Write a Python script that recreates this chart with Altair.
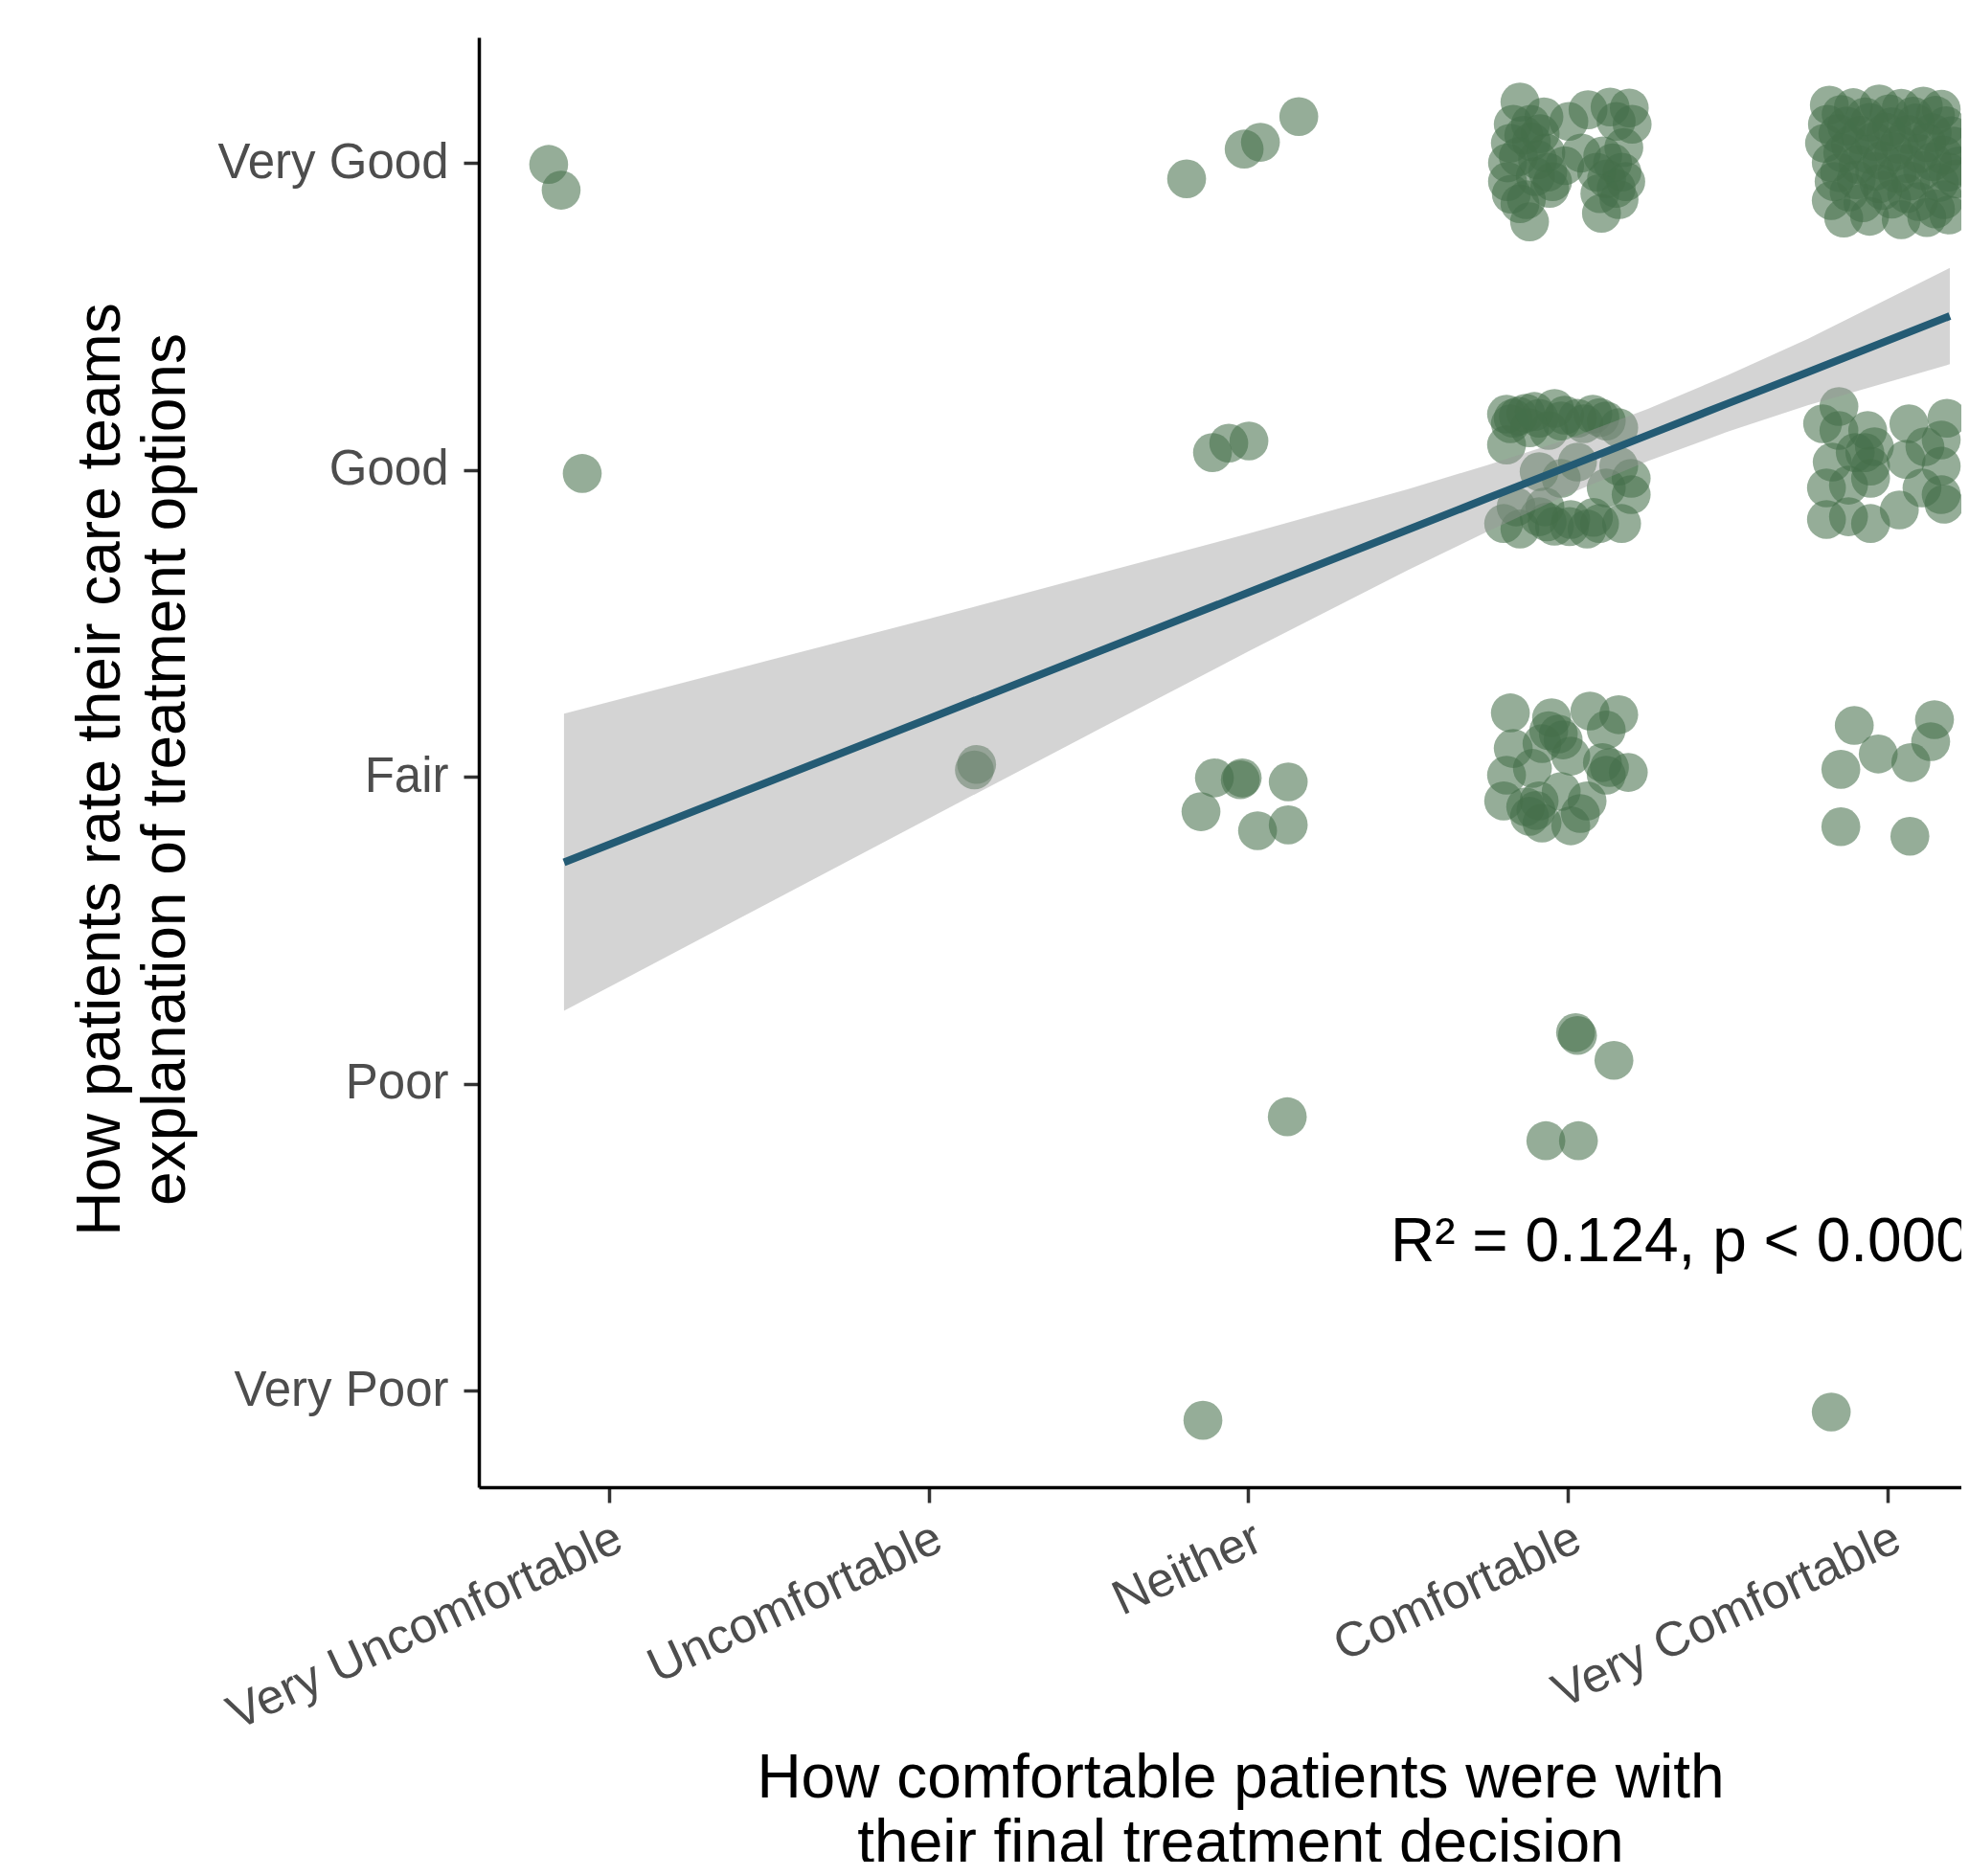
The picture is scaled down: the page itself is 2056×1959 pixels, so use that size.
import json
import altair as alt
import pandas as pd

x_labels = ["Very Uncomfortable", "Uncomfortable", "Neither", "Comfortable", "Very Comfortable"]
y_labels = ["Very Poor", "Poor", "Fair", "Good", "Very Good"]

# jittered survey responses (x: comfort, y: rating)
vu_x = [0.811, 0.850, 0.916]
vu_y = [4.995, 4.911, 3.988]

un_x = [2.150, 2.143]
un_y = [3.040, 3.022]

ne_x = [2.807, 2.987, 3.038, 3.158, 2.888, 2.939, 3.002,
        2.894, 2.981, 2.975, 3.125, 2.852, 3.029, 3.125, 3.122, 2.858]
ne_y = [4.948, 5.045, 5.067, 5.151, 4.056, 4.087, 4.094,
        2.996, 2.996, 2.990, 2.983, 2.886, 2.824, 2.843, 1.892, 0.903]

co_vg_x = [3.850, 3.829, 3.883, 3.820, 3.886, 3.931, 3.811, 3.937, 3.811, 3.823,
           3.850, 3.880, 3.952, 4.003, 3.990, 4.063, 4.132, 4.192, 4.201, 4.151,
           4.109, 4.169, 4.181, 4.121, 4.090, 4.105, 3.943, 4.151, 4.042, 3.913,
           3.862, 3.905, 3.845, 3.898, 3.870, 4.140, 4.175, 4.100, 4.160, 3.925]
co_vg_y = [5.198, 5.126, 5.126, 5.064, 5.069, 5.032, 5.000, 4.970, 4.939, 4.898,
           4.867, 4.808, 4.939, 5.135, 4.991, 5.173, 5.182, 5.179, 5.126, 5.135,
           5.023, 4.970, 4.939, 4.948, 4.970, 4.836, 4.917, 4.917, 5.032, 5.095,
           5.090, 5.010, 5.020, 4.955, 4.880, 5.000, 5.050, 4.900, 4.880, 5.150]

co_g_x = [3.808, 3.829, 3.868, 3.910, 3.958, 3.979, 4.030, 4.078, 4.120, 4.159,
          3.820, 3.880, 3.940, 3.808, 3.910, 3.979, 4.159, 4.198, 4.120, 4.198,
          4.030, 3.799, 3.850, 3.910, 3.958, 4.009, 4.060, 4.099, 4.168, 3.928, 3.838,
          3.845, 3.895, 3.990, 4.050, 4.100, 3.935, 4.005, 4.080]
co_g_y = [4.181, 4.168, 4.184, 4.168, 4.200, 4.159, 4.168, 4.181, 4.159, 4.137,
          4.150, 4.137, 4.128, 4.081, 3.994, 3.972, 4.012, 3.972, 3.941, 3.919,
          4.025, 3.825, 3.807, 3.847, 3.816, 3.838, 3.807, 3.825, 3.825, 3.879, 3.879,
          4.175, 4.190, 4.178, 4.150, 4.170, 3.830, 3.815, 3.845]

co_f_x = [3.820, 3.949, 4.069, 4.159, 4.120, 3.970, 3.829, 3.919, 4.009, 4.108,
          4.189, 4.120, 3.808, 3.889, 3.799, 3.868, 3.910, 3.979, 4.060, 3.919,
          4.009, 4.039, 3.880, 3.940, 3.985, 3.900, 4.130]
co_f_y = [3.208, 3.192, 3.214, 3.202, 3.152, 3.139, 3.092, 3.108, 3.067, 3.046,
          3.014, 3.005, 3.005, 3.027, 2.921, 2.902, 2.921, 2.952, 2.921, 2.849,
          2.840, 2.880, 2.871, 3.150, 3.120, 2.890, 3.030]

co_p_x = [4.024, 4.030, 4.144, 3.931, 4.033]
co_p_y = [2.166, 2.157, 2.076, 1.814, 1.814]

vc_vg_x = [4.818, 4.893, 4.974, 5.043, 5.112, 5.168,
           4.812, 4.872, 4.944, 5.013, 5.088, 5.183,
           4.803, 4.884, 4.959, 5.037, 5.123, 5.207,
           4.824, 4.908, 4.983, 5.058, 5.141, 5.222,
           4.833, 4.902, 4.974, 5.073, 5.162, 5.213,
           4.824, 4.923, 5.013, 5.097, 5.177,
           4.863, 4.944, 5.043, 5.123, 5.192,
           4.855, 4.930, 5.005, 5.080, 5.150,
           4.845, 4.915, 4.995, 5.065, 5.140, 5.200,
           4.860, 4.940, 5.020, 5.100, 5.175,
           4.850, 4.960, 5.030, 5.110, 5.190,
           4.880, 4.985, 5.060, 5.150]
vc_vg_y = [5.188, 5.180, 5.192, 5.178, 5.185, 5.175,
           5.126, 5.120, 5.132, 5.118, 5.130, 5.121,
           5.064, 5.058, 5.070, 5.060, 5.066, 5.055,
           5.001, 4.995, 5.008, 4.998, 5.004, 4.990,
           4.939, 4.945, 4.932, 4.941, 4.936, 4.948,
           4.877, 4.870, 4.882, 4.874, 4.880,
           4.820, 4.826, 4.815, 4.822, 4.830,
           5.158, 5.150, 5.160, 5.152, 5.155,
           5.095, 5.090, 5.100, 5.092, 5.098, 5.088,
           5.032, 5.028, 5.036, 5.030, 5.025,
           4.968, 4.972, 4.965, 4.975, 4.970,
           4.905, 4.910, 4.900, 4.850]

vc_g_x = [4.848, 4.797, 4.848, 4.938, 4.959, 4.899, 5.067, 5.186, 5.168, 5.117,
          4.827, 4.947, 5.058, 5.168, 4.809, 4.878, 4.947, 5.108, 5.168, 4.809,
          4.878, 4.947, 5.037, 5.177, 4.929]
vc_g_y = [4.206, 4.150, 4.128, 4.128, 4.075, 4.056, 4.150, 4.168, 4.097, 4.075,
          4.025, 4.012, 4.034, 4.012, 3.941, 3.950, 3.972, 3.941, 3.919, 3.838,
          3.847, 3.825, 3.869, 3.888, 4.056]

vc_f_x = [4.896, 5.147, 5.135, 4.971, 5.073, 4.854, 4.854, 5.070]
vc_f_y = [3.167, 3.186, 3.114, 3.074, 3.046, 3.024, 2.837, 2.806]

vc_vp_x = [4.824]
vc_vp_y = [0.930]

# linear fit with 95% confidence band
fit_x = [0.859, 1.5, 2.0, 2.5, 3.0, 3.5, 3.75, 4.0, 4.25, 4.5, 4.75, 5.195]
fit_y = [2.721, 2.984, 3.189, 3.395, 3.600, 3.805, 3.908, 4.010, 4.113, 4.216, 4.318, 4.501]
fit_lo = [2.237, 2.589, 2.864, 3.137, 3.408, 3.673, 3.800, 3.920, 4.028, 4.124, 4.210, 4.344]
fit_hi = [3.205, 3.379, 3.514, 3.653, 3.792, 3.937, 4.016, 4.100, 4.198, 4.308, 4.426, 4.658]

note_text = ["R\u00b2 = 0.124, p < 0.0001"]
note_x = [3.445]
note_y = [1.42]

pts = pd.DataFrame({
    "x": vu_x + un_x + ne_x + co_vg_x + co_g_x + co_f_x + co_p_x + vc_vg_x + vc_g_x + vc_f_x + vc_vp_x,
    "y": vu_y + un_y + ne_y + co_vg_y + co_g_y + co_f_y + co_p_y + vc_vg_y + vc_g_y + vc_f_y + vc_vp_y,
})
fit = pd.DataFrame({"x": fit_x, "y": fit_y, "lo": fit_lo, "hi": fit_hi})
note = pd.DataFrame({"x": note_x, "y": note_y, "t": note_text})

FONT = "Liberation Sans"
xs = alt.Scale(domain=[0.5925, 5.231], nice=False, zero=False)
ys = alt.Scale(domain=[0.685, 5.409], nice=False, zero=False)

x_axis = alt.Axis(
    values=[1, 2, 3, 4, 5],
    labelExpr=json.dumps(x_labels) + "[round(datum.value) - 1]",
    labelAngle=335, labelAlign="right", labelBaseline="top",
    labelFont=FONT, labelFontSize=51, labelColor="#4d4d4d", labelPadding=12,
    labelOverlap=False, labelLimit=0, labelOffset=0,
    title=["How comfortable patients were with", "their final treatment decision"],
    titleFont=FONT, titleFontSize=64, titleFontWeight="normal", titleColor="black",
    titleLineHeight=68, titleX=795, titleY=272, titleBaseline="top", titleAlign="center",
    grid=False, domainColor="black", domainWidth=3.5, tickColor="#333333",
    tickWidth=3.5, tickSize=16,
)
y_axis = alt.Axis(
    values=[1, 2, 3, 4, 5],
    labelExpr=json.dumps(y_labels) + "[round(datum.value) - 1]",
    labelFont=FONT, labelFontSize=51, labelColor="#4d4d4d", labelPadding=16,
    labelOverlap=False, labelLimit=0,
    title=["How patients rate their care teams", "explanation of treatment options"],
    titleFont=FONT, titleFontSize=64, titleFontWeight="normal", titleColor="black",
    titleLineHeight=68, titleAngle=270, titleX=-427, titleY=764,
    titleBaseline="top", titleAlign="center",
    grid=False, domainColor="black", domainWidth=3.5, tickColor="#333333",
    tickWidth=3.5, tickSize=16,
)

X = alt.X("x:Q", scale=xs, axis=x_axis)
Y = alt.Y("y:Q", scale=ys, axis=y_axis)

points = alt.Chart(pts).mark_circle(
    size=1650, color="#446e4a", opacity=0.57, clip=True
).encode(x=X, y=Y)

band = alt.Chart(fit).mark_area(color="#999999", opacity=0.42, clip=True).encode(
    x=X, y=alt.Y("lo:Q", scale=ys, axis=y_axis), y2="hi:Q"
)

line = alt.Chart(fit).mark_line(color="#245b74", strokeWidth=8, clip=True).encode(x=X, y=Y)

label = alt.Chart(note).mark_text(
    align="left", baseline="alphabetic", fontSize=64, font=FONT, color="black", clip=True
).encode(x=X, y=Y, text="t:N")

chart = alt.layer(points, band, line, label).properties(
    width=1548, height=1514,
    autosize=alt.AutoSizeParams(type="none"),
    padding={"left": 492, "top": 31, "right": 0, "bottom": 391},
).configure_view(stroke=None)

chart.save("out.html", embed_options={"renderer": "svg", "actions": False})
